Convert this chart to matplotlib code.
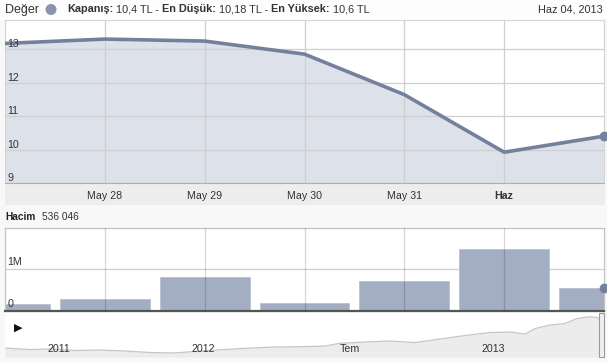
import matplotlib
matplotlib.use("Agg")
import matplotlib.pyplot as plt
from matplotlib.patches import Rectangle, Ellipse

# ---------------- data ----------------
price_labels = ["May 27", "May 28", "May 29", "May 30", "May 31", "Haz", "Haz 04"]
tick_labels = ["May 28", "May 29", "May 30", "May 31", "Haz"]
close = [13.17, 13.30, 13.24, 12.85, 11.64, 9.92, 10.40]
volume = [0.17e6, 0.29e6, 0.81e6, 0.19e6, 0.71e6, 1.48e6, 0.536e6]
price_ticks = [9, 10, 11, 12, 13]
vol_ticks = [0, 1e6]
vol_tick_labels = ["0", "1M"]

nav_pos = [5, 30, 50, 75, 100, 125, 150, 175, 200, 225, 250, 275, 300, 325, 340,
           365, 390, 415, 440, 465, 490, 510, 525, 535, 550, 565, 577, 590, 597, 601, 604]
nav_price = [5.26, 4.87, 5.00, 4.62, 4.75, 4.49, 4.10, 3.98, 4.49, 4.87, 5.26, 5.52,
             5.59, 5.77, 6.47, 6.80, 7.06, 6.67, 7.57, 8.47, 9.24, 9.37, 8.86, 10.27,
             11.17, 11.56, 12.84, 13.30, 13.10, 12.46, 10.40]
nav_tick_pos = [44, 189, 337, 479]
nav_tick_labels = ["2011", "2012", "Tem", "2013"]

# ---------------- style ----------------
W, H = 607, 363
FONT = "Liberation Sans"
FS = 7.7
LINE = "#74819c"
FILL = "#dde1e9"
BAR = "#a4aec3"
plt.rcParams["font.family"] = [FONT, "DejaVu Sans"]

fig = plt.figure(figsize=(W / 100, H / 100), dpi=100, facecolor="#f8f8f8")


def rect(x0, y0, x1, y1):
    return [x0 / W, 1 - y1 / H, (x1 - x0) / W, (y1 - y0) / H]


# white header band
fig.patches.append(Rectangle((0, 1 - 20 / H), 1, 20 / H, transform=fig.transFigure,
                             facecolor="#fdfdfd", edgecolor="none", zorder=-2))
# grey tick-label band under price chart
fig.patches.append(Rectangle((5 / W, 1 - 205 / H), 600 / W, 22 / H, transform=fig.transFigure,
                             facecolor="#ededed", edgecolor="none", zorder=-2))

# ---------------- price panel ----------------
ax = fig.add_axes(rect(5, 20, 604, 183))
x = list(range(len(close)))
ax.fill_between(x, close, 0, color=FILL, zorder=1, linewidth=0)
ax.plot(x, close, color=LINE, lw=2.6, zorder=3, solid_capstyle="round", solid_joinstyle="round")
ax.plot([x[-1]], [close[-1]], "o", color=LINE, ms=6, zorder=4, clip_on=False)
ax.set_xlim(0, len(close) - 1)
ax.set_ylim(9, 13.87)
ax.set_xticks(x[1:-1])
ax.set_xticklabels(tick_labels, fontsize=FS, color="#333333")
for lab in ax.get_xticklabels():
    if lab.get_text() == "Haz":
        lab.set_fontweight("bold")
ax.set_yticks(price_ticks)
ax.set_yticklabels([])
ax.tick_params(length=0, pad=6)
ax.grid(True, color="#cfcfcf", lw=0.9, zorder=2)
ax.set_axisbelow(False)
for s in ["top", "left", "right"]:
    ax.spines[s].set_color("#d4d4d4")
    ax.spines[s].set_linewidth(0.8)
ax.spines["bottom"].set_color("#b0b0b0")
for v in price_ticks:
    ax.text(0.004, v, str(v), transform=ax.get_yaxis_transform(), fontsize=FS,
            color="#333333", va="bottom", ha="left", zorder=5)
for gl in ax.get_xgridlines() + ax.get_ygridlines():
    gl.set_zorder(2)

# ---------------- volume panel ----------------
axv = fig.add_axes(rect(5, 228, 604, 311))
axv.bar(x, volume, width=0.9, color=BAR, edgecolor="#b9c1d2", linewidth=0.6, zorder=2)
axv.plot([x[-1]], [volume[-1]], "o", color=LINE, ms=6, zorder=5, clip_on=False)
axv.set_xlim(0, len(close) - 1)
axv.set_ylim(0, 1.976e6)
axv.set_xticks(x[1:-1])
axv.set_yticks(vol_ticks)
axv.set_xticklabels([])
axv.set_yticklabels([])
axv.tick_params(length=0)
for xv in x[1:-1]:
    axv.axvline(xv, color="black", alpha=0.16, lw=0.9, zorder=3)
axv.axhline(1e6, color="#cfcfcf", lw=0.9, zorder=1)
for s in ["top", "left", "right"]:
    axv.spines[s].set_color("#c4c4c4")
    axv.spines[s].set_linewidth(0.9)
axv.spines["bottom"].set_color("#555555")
axv.spines["bottom"].set_linewidth(1.6)
for v, lab in zip(vol_ticks, vol_tick_labels):
    axv.text(0.004, v + 0.05e6, lab, transform=axv.get_yaxis_transform(), fontsize=FS,
             color="#333333", va="bottom", ha="left", zorder=6)

# ---------------- navigator ----------------
axn = fig.add_axes(rect(5, 313, 604, 357))
axn.fill_between(nav_pos, nav_price, 2.95, color="#ececec", linewidth=0, zorder=1)
axn.plot(nav_pos, nav_price, color="#c6c6c6", lw=0.9, zorder=2)
axn.set_xlim(5, 604)
axn.set_ylim(2.95, 14.26)
axn.set_xticks([])
axn.set_yticks([])
for s in axn.spines.values():
    s.set_visible(False)
for p, lab in zip(nav_tick_pos, nav_tick_labels):
    axn.text(p + 3, 0.07, lab, transform=axn.get_xaxis_transform(), fontsize=FS,
             color="#333333", ha="left", va="bottom", zorder=4)
# navigator right handle
fig.patches.append(Rectangle((598.5 / W, 1 - 357 / H), 5.5 / W, 44 / H, transform=fig.transFigure,
                             facecolor="#f0f0f0", edgecolor="#9a9a9a", linewidth=0.8, zorder=5))
# play triangle
fig.text(14 / W, 1 - 328 / H, "\u25B6", fontsize=8, family="DejaVu Sans", color="#111111",
         va="center", ha="left")

# ---------------- header texts ----------------
renderer = fig.canvas.get_renderer()
yh = 1 - 9.5 / H
fig.text(5 / W, yh, "Değer", fontsize=9.0, color="#333333", va="center")
fig.patches.append(Ellipse((51 / W, yh), 11 / W, 11 / H, transform=fig.transFigure,
                           facecolor="#8a94ad", edgecolor="none", zorder=3))
pieces = [("Kapanış:", "bold"), (" 10,4 TL - ", "normal"), ("En Düşük:", "bold"),
          (" 10,18 TL - ", "normal"), ("En Yüksek:", "bold"), (" 10,6 TL", "normal")]
xp = 67.0
for txt, wt in pieces:
    t = fig.text(xp / W, yh, txt, fontsize=7.85, fontweight=wt, color="#333333", va="center")
    bb = t.get_window_extent(renderer)
    xp = bb.x1
fig.text(603 / W, yh, "Haz 04, 2013", fontsize=7.85, color="#333333", va="center", ha="right")

yv = 1 - 217 / H
t = fig.text(5 / W, yv, "Hacim", fontsize=7.3, fontweight="bold", color="#222222", va="center")
bb = t.get_window_extent(renderer)
fig.text((bb.x1 + 7) / W, yv, "536 046", fontsize=7.3, color="#333333", va="center")

fig.savefig("out.png", dpi=100, facecolor=fig.get_facecolor())
